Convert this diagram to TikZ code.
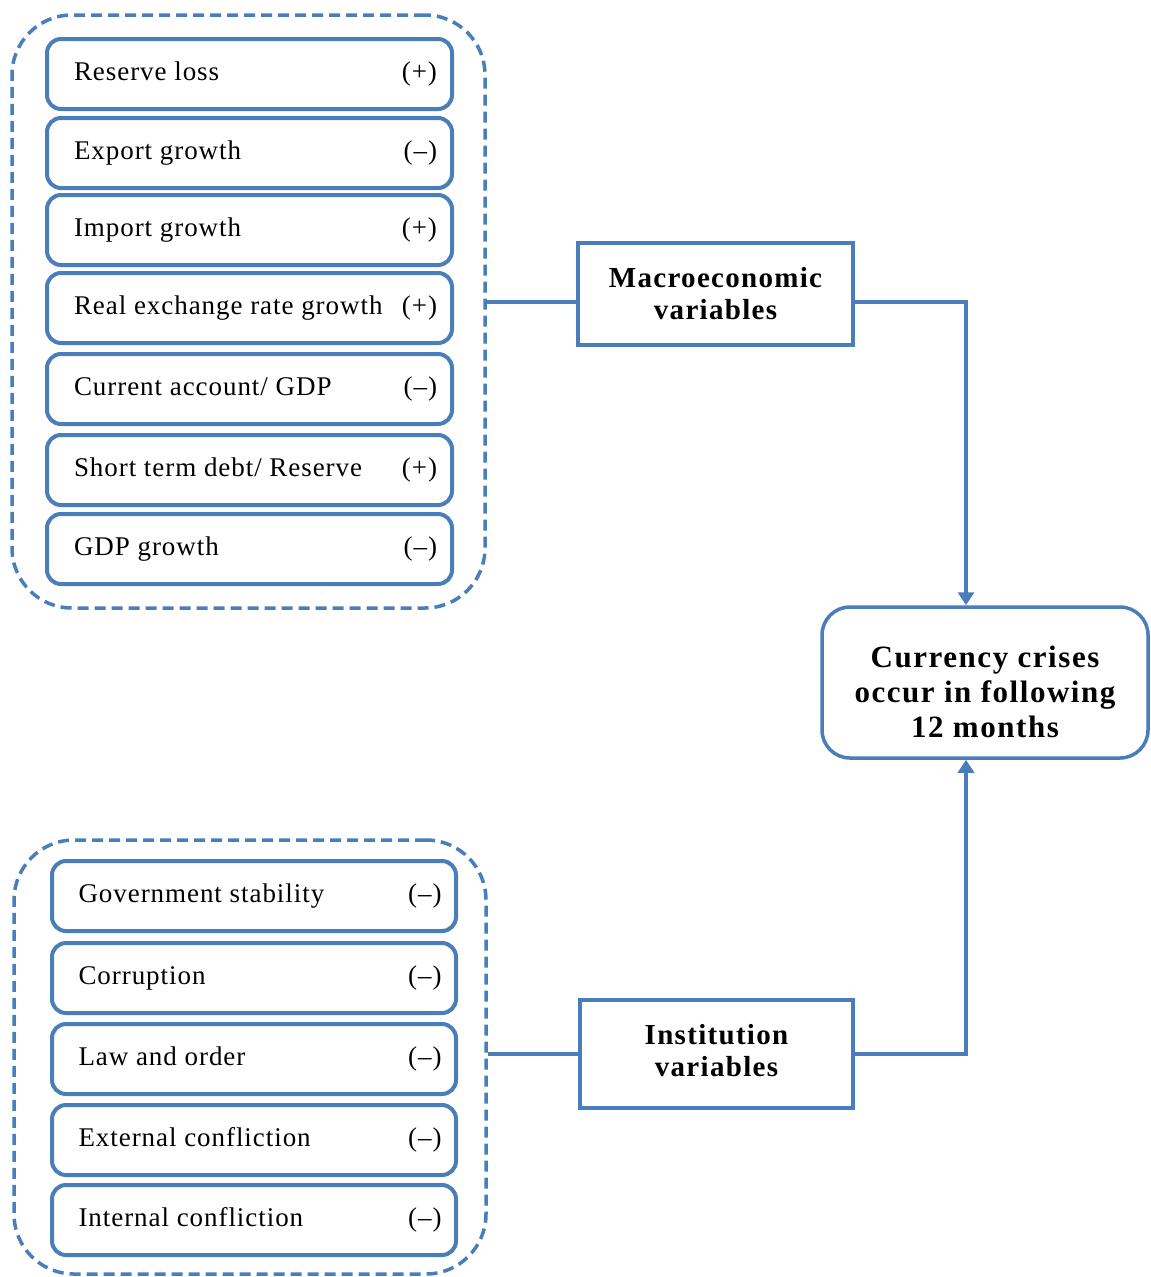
\documentclass[tikz,border=0pt]{standalone}
\usepackage{fontspec}
\setmainfont{Liberation Serif}
\usetikzlibrary{arrows.meta}
\definecolor{lineblue}{HTML}{4A7EBB}
\newcommand{\itemtext}[2]{\makebox[375pt]{\hspace{12pt}#1\hfill#2}}
\tikzset{
  itembox/.style={draw=lineblue, line width=4pt, rounded corners=14pt,
    minimum width=405pt, minimum height=70pt, inner sep=0pt,
    font=\fontsize{27}{32}\selectfont\addfontfeatures{LetterSpace=3.5}},
  groupbox/.style={draw=lineblue, line width=3.5pt, dash pattern=on 11pt off 6pt,
    rounded corners=60pt, inner sep=0pt},
  varbox/.style={draw=lineblue, line width=3.5pt, inner sep=0pt, align=center,
    font=\fontsize{29}{32}\selectfont\bfseries\addfontfeatures{LetterSpace=4.5}},
  crisisbox/.style={draw=lineblue, line width=3.5pt, rounded corners=28pt, inner sep=0pt,
    align=center, font=\fontsize{31}{35}\selectfont\bfseries\addfontfeatures{LetterSpace=5}},
  conn/.style={draw=lineblue, line width=4pt},
  arr/.style={conn, -{Triangle[width=16pt,length=13pt]}}
}
\begin{document}
\begin{tikzpicture}[x=1pt,y=-1pt]
\useasboundingbox (0,0) rectangle (1151,1277);
% top group
\node[groupbox, minimum width=473pt, minimum height=593pt] (topgroup) at (248.5,311.5) {};
\node[itembox] (i1) at (249.5,74) {\itemtext{Reserve loss}{(+)}};
\node[itembox] (i2) at (249.5,153) {\itemtext{Export growth}{(–)}};
\node[itembox] (i3) at (249.5,230) {\itemtext{Import growth}{(+)}};
\node[itembox] (i4) at (249.5,308) {\itemtext{Real exchange rate growth}{(+)}};
\node[itembox] (i5) at (249.5,389) {\itemtext{Current account/ GDP}{(–)}};
\node[itembox] (i6) at (249.5,470) {\itemtext{Short term debt/ Reserve}{(+)}};
\node[itembox] (i7) at (249.5,549) {\itemtext{GDP growth}{(–)}};
% bottom group
\node[groupbox, minimum width=472pt, minimum height=434pt] (botgroup) at (250,1057) {};
\node[itembox, minimum width=404pt] (j1) at (254,896) {\itemtext{Government stability}{(–)}};
\node[itembox, minimum width=404pt] (j2) at (254,978) {\itemtext{Corruption}{(–)}};
\node[itembox, minimum width=404pt] (j3) at (254,1059) {\itemtext{Law and order}{(–)}};
\node[itembox, minimum width=404pt] (j4) at (254,1140) {\itemtext{External confliction}{(–)}};
\node[itembox, minimum width=404pt] (j5) at (254,1220) {\itemtext{Internal confliction}{(–)}};
% variable boxes
\node[varbox, minimum width=275pt, minimum height=102pt] (macro) at (715.5,294) {Macroeconomic\\variables};
\node[varbox, minimum width=273pt, minimum height=108pt] (inst) at (716.5,1054) {\raisebox{-2.5pt}[0pt][0pt]{\parbox{260pt}{\centering Institution\\variables}}};
\node[crisisbox, minimum width=326pt, minimum height=151pt] (crisis) at (985,682.5) {\raisebox{-16pt}[0pt][0pt]{\parbox{310pt}{\centering Currency crises\\occur in following\\12 months}}};
% connectors
\draw[conn] ([yshift=-8pt]macro.west) -- ([yshift=-8pt]macro.west -| topgroup.east);
\draw[arr] ([yshift=-8pt]macro.east) -| ([xshift=-19pt]crisis.north);
\draw[conn] (inst.west) -- (inst.west -| botgroup.east);
\draw[arr] (inst.east) -| ([xshift=-19pt]crisis.south);
\end{tikzpicture}
\end{document}
